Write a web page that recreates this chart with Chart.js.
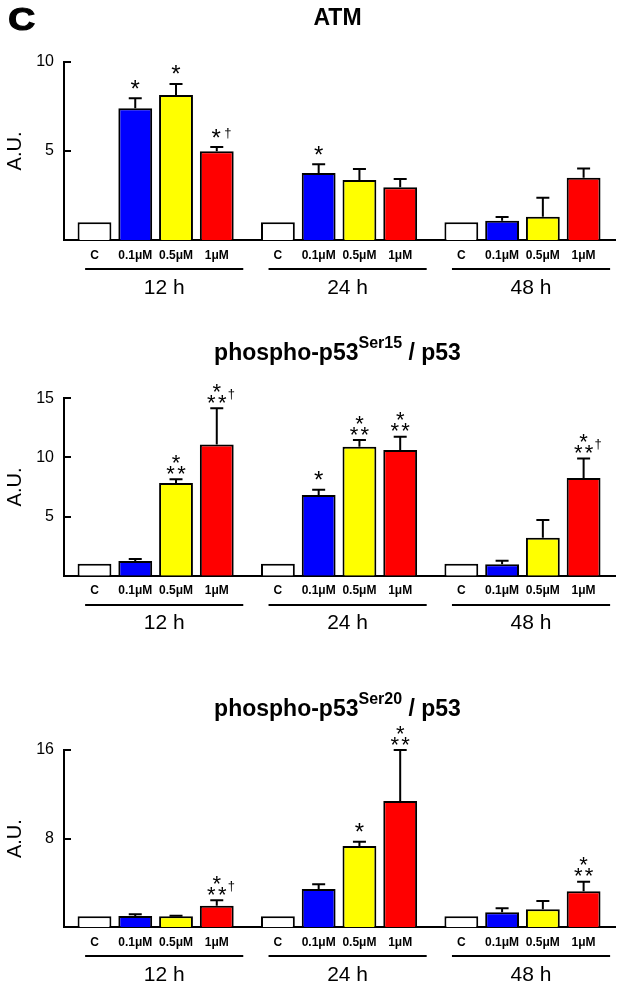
<!DOCTYPE html>
<html><head><meta charset="utf-8">
<script src="https://cdn.jsdelivr.net/npm/chart.js@4.4.1/dist/chart.umd.min.js"></script>
<style>
html,body{margin:0;padding:0;background:#fff;}
#wrap{position:relative;width:624px;height:991px;overflow:hidden;background:#fff;}
canvas{position:absolute;left:0;}
</style></head>
<body><div id="wrap">
<canvas id="c1" width="624" height="300" style="top:0px"></canvas>
<canvas id="c2" width="624" height="340" style="top:300px"></canvas>
<canvas id="c3" width="624" height="351" style="top:640px"></canvas>
</div>
<script>
// ---------- data ----------
const groups = ['12 h', '24 h', '48 h'];
const conditions = ['C', '0.1μM', '0.5μM', '1μM'];

// ATM
const atmMean = [1.0, 7.40, 8.15, 4.98,  1.0, 3.76, 3.37, 2.96,  1.0, 1.08, 1.31, 3.50];
const atmErr  = [0,   0.56, 0.62, 0.24,  0,   0.49, 0.62, 0.47,  0,   0.21, 1.07, 0.51];
const atmSig  = ['', '*', '*', '*†',  '', '*', '', '',  '', '', '', ''];
const atmTicks = [5, 10];

// phospho-p53 Ser15 / p53
const ser15Mean = [1.0, 1.24, 7.84, 11.10,  1.0, 6.82, 10.90, 10.62,  1.0, 0.96, 3.21, 8.26];
const ser15Err  = [0,   0.17, 0.31, 3.05,   0,   0.45, 0.57,  1.13,   0,   0.31, 1.50, 1.66];
const ser15Sig  = ['', '', '*|**', '*|**†',  '', '*', '*|**', '*|**',  '', '', '', '*|**†'];
const ser15Ticks = [5, 10, 15];

// phospho-p53 Ser20 / p53
const ser20Mean = [1.0, 1.02, 0.99, 1.95,  1.0, 3.46, 7.34, 11.40,  1.0, 1.35, 1.62, 3.25];
const ser20Err  = [0,   0.15, 0.06, 0.49,  0,   0.42, 0.39, 4.60,   0,   0.36, 0.75, 0.87];
const ser20Sig  = ['', '', '', '*|**†',  '', '', '*', '*|**',  '', '', '', '*|**'];
const ser20Ticks = [8, 16];

// ---------- styling / layout ----------
const FONT = '"Liberation Sans", Arial, Helvetica, sans-serif';
const barColors = ['#ffffff', '#0000ff', '#ffff00', '#ff0000'];
const GROUP_STEP = 4.5;
const pos = [];
groups.forEach((g, gi) => conditions.forEach((c, ci) => pos.push(gi * GROUP_STEP + ci)));

const panels = [
  { id: 'c1', h: 300, top: 62, bottom: 240, titleBase: 25, yMax: 10, ticks: atmTicks,
    mean: atmMean, err: atmErr, sig: atmSig, letter: 'C',
    title: [{ t: 'ATM' }] },
  { id: 'c2', h: 340, top: 98.3, bottom: 275.7, titleBase: 60, yMax: 15, ticks: ser15Ticks,
    mean: ser15Mean, err: ser15Err, sig: ser15Sig,
    title: [{ t: 'phospho-p53' }, { t: 'Ser15', sup: true }, { t: ' / p53' }] },
  { id: 'c3', h: 351, top: 110, bottom: 287.3, titleBase: 76, yMax: 16, ticks: ser20Ticks,
    mean: ser20Mean, err: ser20Err, sig: ser20Sig,
    title: [{ t: 'phospho-p53' }, { t: 'Ser20', sup: true }, { t: ' / p53' }] }
];

function glyphAt(ctx, txt, x, cy, stroke) {
  ctx.textAlign = 'center';
  ctx.textBaseline = 'alphabetic';
  const m = ctx.measureText(txt);
  const base = cy + (m.actualBoundingBoxAscent - m.actualBoundingBoxDescent) / 2;
  ctx.fillText(txt, x, base);
  if (stroke) { ctx.lineWidth = stroke; ctx.strokeText(txt, x, base); }
}

function makeOverlay(P) {
  return {
    id: 'overlay_' + P.id,
    afterDatasetsDraw(chart) {
      const ctx = chart.ctx, xs = chart.scales.x, ys = chart.scales.y;
      ctx.save();
      ctx.strokeStyle = '#000';
      ctx.fillStyle = '#000';
      P.mean.forEach((m, i) => {
        const e = P.err[i];
        const x = xs.getPixelForValue(pos[i]);
        const y0 = ys.getPixelForValue(m);
        const y1 = ys.getPixelForValue(m + e);
        if (e > 0) {
          ctx.lineWidth = 2;
          ctx.beginPath();
          ctx.moveTo(x, y0); ctx.lineTo(x, y1);
          ctx.moveTo(x - 6.5, y1); ctx.lineTo(x + 6.5, y1);
          ctx.stroke();
        }
        const s = P.sig[i];
        if (!s) return;
        const dagger = s.includes('†');
        const rows = s.replace('†', '').split('|');
        if (rows.length === 1) {
          const cy = y1 - 14;
          ctx.font = '24px ' + FONT;
          glyphAt(ctx, '*', x - (dagger ? 0.5 : 0), cy);
          if (dagger) { ctx.font = '13px ' + FONT; glyphAt(ctx, '†', x + 11, cy); }
        } else {
          const cyB = y1 - 9.5, cyT = y1 - 20.5;
          ctx.font = '22px ' + FONT;
          glyphAt(ctx, '*', x, cyT);
          glyphAt(ctx, '*', x - 5.4, cyB);
          glyphAt(ctx, '*', x + 5.4, cyB);
          if (dagger) { ctx.font = '13px ' + FONT; glyphAt(ctx, '†', x + 14.5, cyB - 4); }
        }
      });
      ctx.restore();
    },
    afterDraw(chart) {
      const ctx = chart.ctx, xs = chart.scales.x, ys = chart.scales.y, a = chart.chartArea;
      ctx.save();
      ctx.strokeStyle = '#000';
      ctx.fillStyle = '#000';
      ctx.lineWidth = 2;
      // inward y ticks
      P.ticks.forEach(v => {
        const y = Math.round(ys.getPixelForValue(v));
        ctx.beginPath(); ctx.moveTo(a.left - 1, y); ctx.lineTo(a.left + 7, y); ctx.stroke();
      });
      // group underlines and labels
      groups.forEach((g, gi) => {
        const x0 = xs.getPixelForValue(gi * GROUP_STEP - 0.23);
        const x1 = xs.getPixelForValue(gi * GROUP_STEP + 3.65);
        const yl = Math.round(a.bottom + 29);
        ctx.lineWidth = 2;
        ctx.beginPath(); ctx.moveTo(x0, yl); ctx.lineTo(x1, yl); ctx.stroke();
        ctx.font = '21px ' + FONT;
        glyphAt(ctx, g, (x0 + x1) / 2, a.bottom + 46);
      });
      // title with optional superscript
      const mainF = 'bold 23px ' + FONT, supF = 'bold 16px ' + FONT;
      let total = 0;
      P.title.forEach(p => { ctx.font = p.sup ? supF : mainF; p.w = ctx.measureText(p.t).width; total += p.w; });
      let tx = (a.left + a.right) / 2 - 2 - total / 2;
      ctx.textAlign = 'left'; ctx.textBaseline = 'alphabetic';
      P.title.forEach(p => {
        ctx.font = p.sup ? supF : mainF;
        ctx.fillText(p.t, tx, p.sup ? P.titleBase - 12 : P.titleBase);
        tx += p.w;
      });
      // panel letter
      if (P.letter) {
        ctx.save();
        ctx.translate(21.7, 0);
        ctx.scale(1.2, 1);
        ctx.font = 'bold 31px ' + FONT;
        glyphAt(ctx, P.letter, 0, 19.2, 1.2);
        ctx.restore();
      }
      ctx.restore();
    }
  };
}

panels.forEach(P => {
  const ctx = document.getElementById(P.id).getContext('2d');
  new Chart(ctx, {
    type: 'bar',
    data: {
      datasets: [{
        data: P.mean.map((v, i) => ({ x: pos[i], y: v })),
        backgroundColor: P.mean.map((v, i) => barColors[i % 4]),
        borderColor: '#000',
        borderWidth: 2,
        barPercentage: 0.83,
        categoryPercentage: 1.0
      }]
    },
    options: {
      responsive: false,
      animation: false,
      devicePixelRatio: 1,
      layout: { padding: { top: P.top, right: 9, left: 0, bottom: 0 } },
      plugins: { legend: { display: false }, tooltip: { enabled: false }, title: { display: false } },
      scales: {
        x: {
          type: 'linear', min: -0.748, max: 12.77, offset: false,
          grid: { display: false, drawTicks: false, offset: false },
          border: { display: true, color: '#000', width: 2 },
          afterBuildTicks: s => { s.ticks = pos.map(v => ({ value: v })); },
          afterFit: s => { s.height = P.h - P.bottom; },
          ticks: {
            autoSkip: false, maxRotation: 0, minRotation: 0, padding: 8, color: '#000',
            font: { family: FONT, size: 12, weight: 'bold' },
            callback: (v, i) => conditions[i % 4]
          }
        },
        y: {
          min: 0, max: P.yMax,
          grid: { display: false, drawTicks: false },
          border: { display: true, color: '#000', width: 2 },
          afterBuildTicks: s => { s.ticks = P.ticks.map(v => ({ value: v })); },
          afterFit: s => { s.width = 64; },
          ticks: { padding: 10, color: '#000', font: { family: FONT, size: 16 } },
          title: { display: true, text: 'A.U.', color: '#000', font: { family: FONT, size: 20 }, padding: { top: 3.5, bottom: 0 } }
        }
      }
    },
    plugins: [makeOverlay(P)]
  });
});
</script>
</body></html>
